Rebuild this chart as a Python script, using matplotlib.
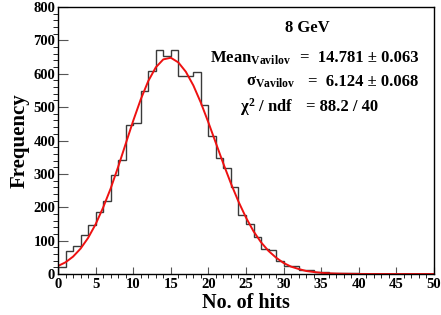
"""Number of hits per event at 8 GeV, with a Vavilov fit."""

import matplotlib

matplotlib.use("Agg")
import matplotlib.pyplot as plt
import numpy as np

plt.rcParams["font.family"] = ["Liberation Serif", "DejaVu Serif"]
plt.rcParams["font.weight"] = "bold"
plt.rcParams["mathtext.fontset"] = "custom"
plt.rcParams["mathtext.rm"] = "Liberation Serif:bold"
plt.rcParams["mathtext.it"] = "Liberation Serif:bold"
plt.rcParams["mathtext.bf"] = "Liberation Serif:bold"

# histogram, 1-hit bins from 0 to 50
bin_edges = np.arange(0, 51, 1)
counts = [
    20, 69, 84, 116, 146, 185, 220, 298, 342, 447,
    452, 547, 607, 670, 654, 670, 594, 594, 604, 507,
    412, 347, 317, 260, 177, 150, 110, 76, 72, 40,
    25, 23, 13, 11, 7, 6, 3, 4, 2, 4,
    1, 1, 0, 1, 0, 0, 1, 0, 0, 0,
]

# fit curve at each integer number of hits
fit_x = np.arange(0, 51, 1)
fit_y = [
    24, 35, 52, 76, 108, 149, 199, 256, 321, 390,
    459, 523, 578, 619, 643, 648, 634, 606, 565, 513,
    454, 392, 330, 271, 217, 169, 128, 95, 69, 49,
    33, 22, 15, 9, 6, 3.5, 2.1, 1.2, 0.7, 0.4,
    0.2, 0.1, 0, 0, 0, 0, 0, 0, 0, 0, 0,
]

fig = plt.figure(figsize=(4.41, 3.15), dpi=100)
ax = fig.add_axes([58 / 441, 1 - 274 / 315, 376 / 441, 267 / 315])

ax.stairs(counts, bin_edges, color="#3a3a3a", lw=1.0)
ax.plot(fit_x, fit_y, color="#ee1111", lw=1.4)

ax.set_xlim(0, 50)
ax.set_ylim(0, 800)
ax.set_xticks(np.arange(0, 51, 5))
ax.set_xticks(np.arange(0, 51, 1), minor=True)
ax.set_yticks(np.arange(0, 801, 100))
ax.set_yticks(np.arange(0, 801, 20), minor=True)
ax.tick_params(axis="both", direction="in", labelsize=10.5, width=0.8, color="#555555")
ax.tick_params(axis="x", which="major", length=5, pad=3)
ax.tick_params(axis="x", which="minor", length=2.6)
ax.tick_params(axis="y", which="major", length=7.5, pad=2)
ax.tick_params(axis="y", which="minor", length=3.8)
for lab in ax.get_xticklabels() + ax.get_yticklabels():
    lab.set_fontweight("bold")
for sp in ax.spines.values():
    sp.set_linewidth(1.0)

ax.set_xlabel("No. of hits", fontsize=14.5, fontweight="bold", labelpad=1)
ax.set_ylabel("Frequency", fontsize=15, fontweight="bold", labelpad=3)


def px(x, y):
    # pixel position from the top-left corner -> figure fraction
    return x / 441, 1 - y / 315


# fit summary
kw = dict(fontsize=12, va="center", fontweight="bold")
fig.text(*px(307, 28), "8 GeV", ha="center", **kw)
fig.text(*px(210, 58), r"Mean$_{\rm Vavilov}$", **kw)
fig.text(*px(300, 58), "=  14.781 ± 0.063", **kw)
fig.text(*px(246, 82), r"$\sigma_{\rm Vavilov}$", **kw)
fig.text(*px(308, 82), "=  6.124 ± 0.068", **kw)
fig.text(*px(240, 107), r"$\chi^{2}$ / ndf", **kw)
fig.text(*px(306, 107), "= 88.2 / 40", **kw)

fig.savefig("out.png", dpi=100)
plt.close(fig)
